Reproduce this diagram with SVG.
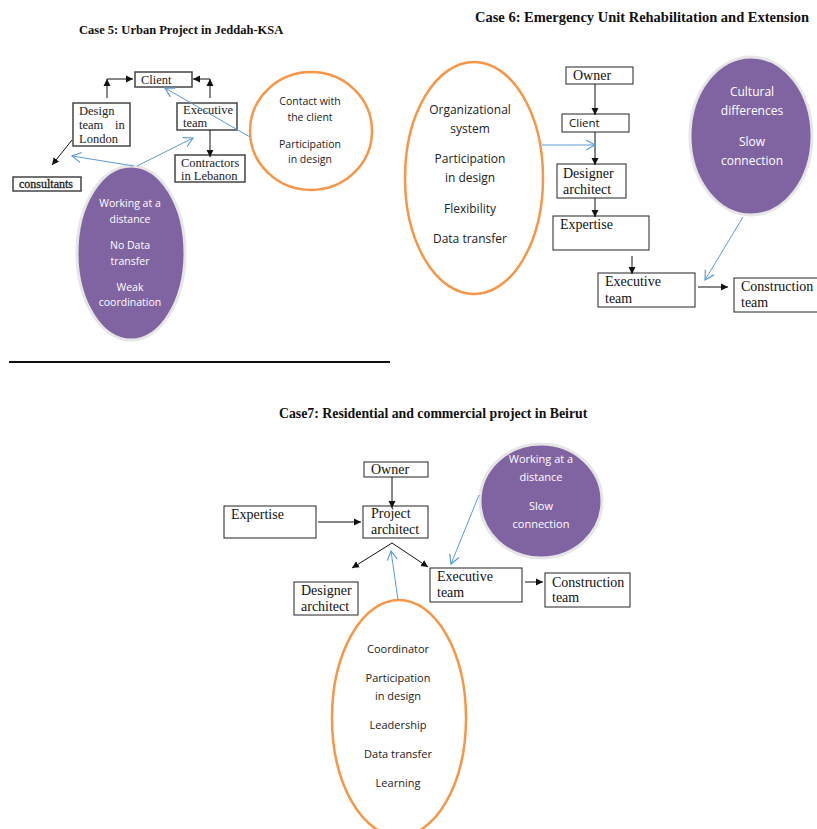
<svg xmlns="http://www.w3.org/2000/svg" width="817" height="829" viewBox="0 0 817 829">
<style>
.title{font-family:"Liberation Serif",serif;font-weight:bold;font-size:12.5px;fill:#111}
.t6{font-size:14.5px}
.t7{font-size:13.8px}
.box{fill:#fff;stroke:#222;stroke-width:1}
.box5{fill:#fff;stroke:#444;stroke-width:1.5}
.sr{font-family:"Liberation Serif",serif;font-size:14px;fill:#111}
.sr5{font-family:"Liberation Serif",serif;font-size:12.5px;fill:#222}
.sn{font-family:"Open Sans","Liberation Sans",sans-serif;font-size:10.5px;fill:#222;text-anchor:middle}
.sw{font-family:"Open Sans","Liberation Sans",sans-serif;font-size:10.5px;fill:#fff;text-anchor:middle}
.f12{font-size:12px}
.f11{font-size:11px}
.orange{fill:#fff;stroke:#F79646;stroke-width:2.5}
.purple{fill:#8064A2;stroke:#e6e6e6;stroke-width:3}
.blk{stroke:#111;stroke-width:1;fill:none}
.blu{stroke:#5B9BD5;stroke-width:1;fill:none}
</style>
<defs>
<marker id="ah" markerWidth="8" markerHeight="8" refX="7" refY="4" orient="auto" markerUnits="userSpaceOnUse">
<path d="M0,0.5 L7,4 L0,7.5 Z" fill="#111"/>
</marker>
<marker id="bh" markerWidth="12" markerHeight="12" refX="10" refY="6" orient="auto" markerUnits="userSpaceOnUse">
<path d="M1,1 L10,6 L1,11" fill="none" stroke="#5B9BD5" stroke-width="1.2"/>
</marker>
</defs>

<!-- Titles -->
<text class="title" x="79" y="34">Case 5: Urban Project in Jeddah-KSA</text>
<text class="title t6" x="475" y="22" textLength="334" lengthAdjust="spacingAndGlyphs">Case 6: Emergency Unit Rehabilitation  and Extension</text>
<text class="title t7" x="279" y="418">Case7: Residential and commercial project in Beirut</text>
<line x1="9" y1="362" x2="390" y2="362" stroke="#111" stroke-width="2"/>

<!-- Case 5 nodes -->
<g id="c5-client"><rect class="box5" x="135" y="72" width="57" height="15"/><text class="sr5" x="141" y="84">Client</text></g>
<g id="c5-design"><rect class="box5" x="73" y="103" width="57" height="43"/><text class="sr5" x="79" y="115">Design</text><text class="sr5" x="79" y="129">team</text><text class="sr5" x="115" y="129">in</text><text class="sr5" x="79" y="143">London</text></g>
<g id="c5-exec"><rect class="box5" x="177" y="103" width="60" height="27"/><text class="sr5" x="183" y="114">Executive</text><text class="sr5" x="183" y="127">team</text></g>
<g id="c5-contr"><rect class="box5" x="175" y="155" width="70" height="27"/><text class="sr5" x="181" y="167">Contractors</text><text class="sr5" x="181" y="180">in Lebanon</text></g>
<g id="c5-cons"><rect class="box5" x="13" y="177" width="68" height="14"/><text class="sr5 f12" x="19" y="188" stroke="#222" stroke-width="0.3">consultants</text></g>
<g id="c5-orange"><ellipse class="orange" cx="311" cy="131" rx="61" ry="59"/>
<text class="sn" x="310" y="105">Contact with</text><text class="sn" x="310" y="121">the client</text>
<text class="sn" x="310" y="148">Participation</text><text class="sn" x="310" y="163">in design</text></g>
<g id="c5-purple"><ellipse class="purple" cx="131" cy="253" rx="54" ry="87"/>
<text class="sw" x="130" y="207">Working at a</text><text class="sw" x="130" y="223">distance</text>
<text class="sw" x="130" y="249">No Data</text><text class="sw" x="130" y="265">transfer</text>
<text class="sw" x="130" y="291">Weak</text><text class="sw" x="130" y="306">coordination</text></g>

<!-- Case 6 nodes -->
<g id="c6-owner"><rect class="box" x="566" y="67" width="67" height="17"/><text class="sr" x="573" y="80">Owner</text></g>
<g id="c6-client"><rect class="box" x="562" y="114" width="67" height="18"/><text x="569" y="127" font-family="Open Sans, Liberation Sans, sans-serif" font-size="11.5" fill="#111">Client</text></g>
<g id="c6-designer"><rect class="box" x="557" y="164" width="69" height="34"/><text class="sr" x="563" y="178">Designer</text><text class="sr" x="563" y="194">architect</text></g>
<g id="c6-expertise"><rect class="box" x="553" y="216" width="96" height="34"/><text class="sr" x="560" y="229">Expertise</text></g>
<g id="c6-exec"><rect class="box" x="598" y="273" width="97" height="34"/><text class="sr" x="605" y="286">Executive</text><text class="sr" x="605" y="303">team</text></g>
<g id="c6-constr"><rect class="box" x="734" y="278" width="90" height="34"/><text class="sr" x="741" y="291">Construction</text><text class="sr" x="741" y="307">team</text></g>
<g id="c6-orange"><ellipse class="orange" cx="474" cy="178" rx="69" ry="116"/>
<text class="sn f12" x="470" y="114">Organizational</text><text class="sn f12" x="470" y="133">system</text>
<text class="sn f12" x="470" y="163">Participation</text><text class="sn f12" x="470" y="182">in design</text>
<text class="sn f12" x="470" y="213">Flexibility</text><text class="sn f12" x="470" y="243">Data transfer</text></g>
<g id="c6-purple"><ellipse class="purple" cx="751" cy="136" rx="61" ry="79"/>
<text class="sw f12" x="752" y="96">Cultural</text><text class="sw f12" x="752" y="115">differences</text>
<text class="sw f12" x="752" y="146">Slow</text><text class="sw f12" x="752" y="165">connection</text></g>

<!-- Case 7 nodes -->
<g id="c7-owner"><rect class="box" x="364" y="462" width="64" height="15"/><text class="sr" x="371" y="474">Owner</text></g>
<g id="c7-pa"><rect class="box" x="363" y="506" width="65" height="32"/><text class="sr" x="371" y="518">Project</text><text class="sr" x="371" y="534">architect</text></g>
<g id="c7-expertise"><rect class="box" x="224" y="506" width="92" height="32"/><text class="sr" x="231" y="519">Expertise</text></g>
<g id="c7-designer"><rect class="box" x="294" y="582" width="64" height="33"/><text class="sr" x="301" y="595">Designer</text><text class="sr" x="301" y="611">architect</text></g>
<g id="c7-exec"><rect class="box" x="430" y="568" width="92" height="34"/><text class="sr" x="437" y="581">Executive</text><text class="sr" x="437" y="597">team</text></g>
<g id="c7-constr"><rect class="box" x="545" y="573" width="85" height="34"/><text class="sr" x="552" y="587">Construction</text><text class="sr" x="552" y="602">team</text></g>
<g id="c7-purple"><ellipse class="purple" cx="541" cy="501" rx="61" ry="57"/>
<text class="sw f11" x="541" y="463">Working at a</text><text class="sw f11" x="541" y="481">distance</text>
<text class="sw f11" x="541" y="510">Slow</text><text class="sw f11" x="541" y="528">connection</text></g>
<g id="c7-orange"><ellipse class="orange" cx="399" cy="718" rx="67" ry="118"/>
<text class="sn f11" x="398" y="653">Coordinator</text>
<text class="sn f11" x="398" y="682">Participation</text><text class="sn f11" x="398" y="700">in design</text>
<text class="sn f11" x="398" y="729">Leadership</text><text class="sn f11" x="398" y="758">Data transfer</text>
<text class="sn f11" x="398" y="787">Learning</text></g>

<!-- Connectors -->
<g id="connectors">
<!-- case 5 -->
<line class="blk" x1="107" y1="98" x2="107" y2="79" marker-end="url(#ah)"/>
<line class="blk" x1="107" y1="79" x2="133" y2="79" marker-end="url(#ah)"/>
<line class="blk" x1="210" y1="98" x2="210" y2="79" marker-end="url(#ah)"/>
<line class="blk" x1="210" y1="79" x2="193" y2="79" marker-end="url(#ah)"/>
<line class="blk" x1="210" y1="130" x2="210" y2="157" marker-end="url(#ah)"/>
<line class="blk" x1="72" y1="140" x2="52" y2="165" marker-end="url(#ah)"/>
<line class="blu" x1="134" y1="166" x2="72" y2="156" marker-end="url(#bh)"/>
<line class="blu" x1="137" y1="166" x2="193" y2="138" marker-end="url(#bh)"/>
<line class="blu" x1="250" y1="137" x2="165" y2="88" marker-end="url(#bh)"/>
<!-- case 6 -->
<line class="blk" x1="595" y1="84" x2="595" y2="115" marker-end="url(#ah)"/>
<line class="blk" x1="595" y1="132" x2="595" y2="165" marker-end="url(#ah)"/>
<line class="blk" x1="595" y1="198" x2="595" y2="217" marker-end="url(#ah)"/>
<line class="blk" x1="632" y1="256" x2="632" y2="274" marker-end="url(#ah)"/>
<line class="blk" x1="698" y1="287" x2="728" y2="287" marker-end="url(#ah)"/>
<line class="blu" x1="542" y1="145" x2="595" y2="145" marker-end="url(#bh)"/>
<line class="blu" x1="743" y1="217" x2="705" y2="280" marker-end="url(#bh)"/>
<!-- case 7 -->
<line class="blk" x1="392" y1="477" x2="392" y2="508" marker-end="url(#ah)"/>
<line class="blk" x1="318" y1="522" x2="361" y2="522" marker-end="url(#ah)"/>
<line class="blk" x1="392" y1="543" x2="352" y2="568" marker-end="url(#ah)"/>
<line class="blk" x1="392" y1="543" x2="428" y2="567" marker-end="url(#ah)"/>
<line class="blk" x1="525" y1="582" x2="543" y2="582" marker-end="url(#ah)"/>
<line class="blu" x1="398" y1="600" x2="391" y2="551" marker-end="url(#bh)"/>
<line class="blu" x1="479" y1="495" x2="451" y2="564" marker-end="url(#bh)"/>
</g>
</svg>
